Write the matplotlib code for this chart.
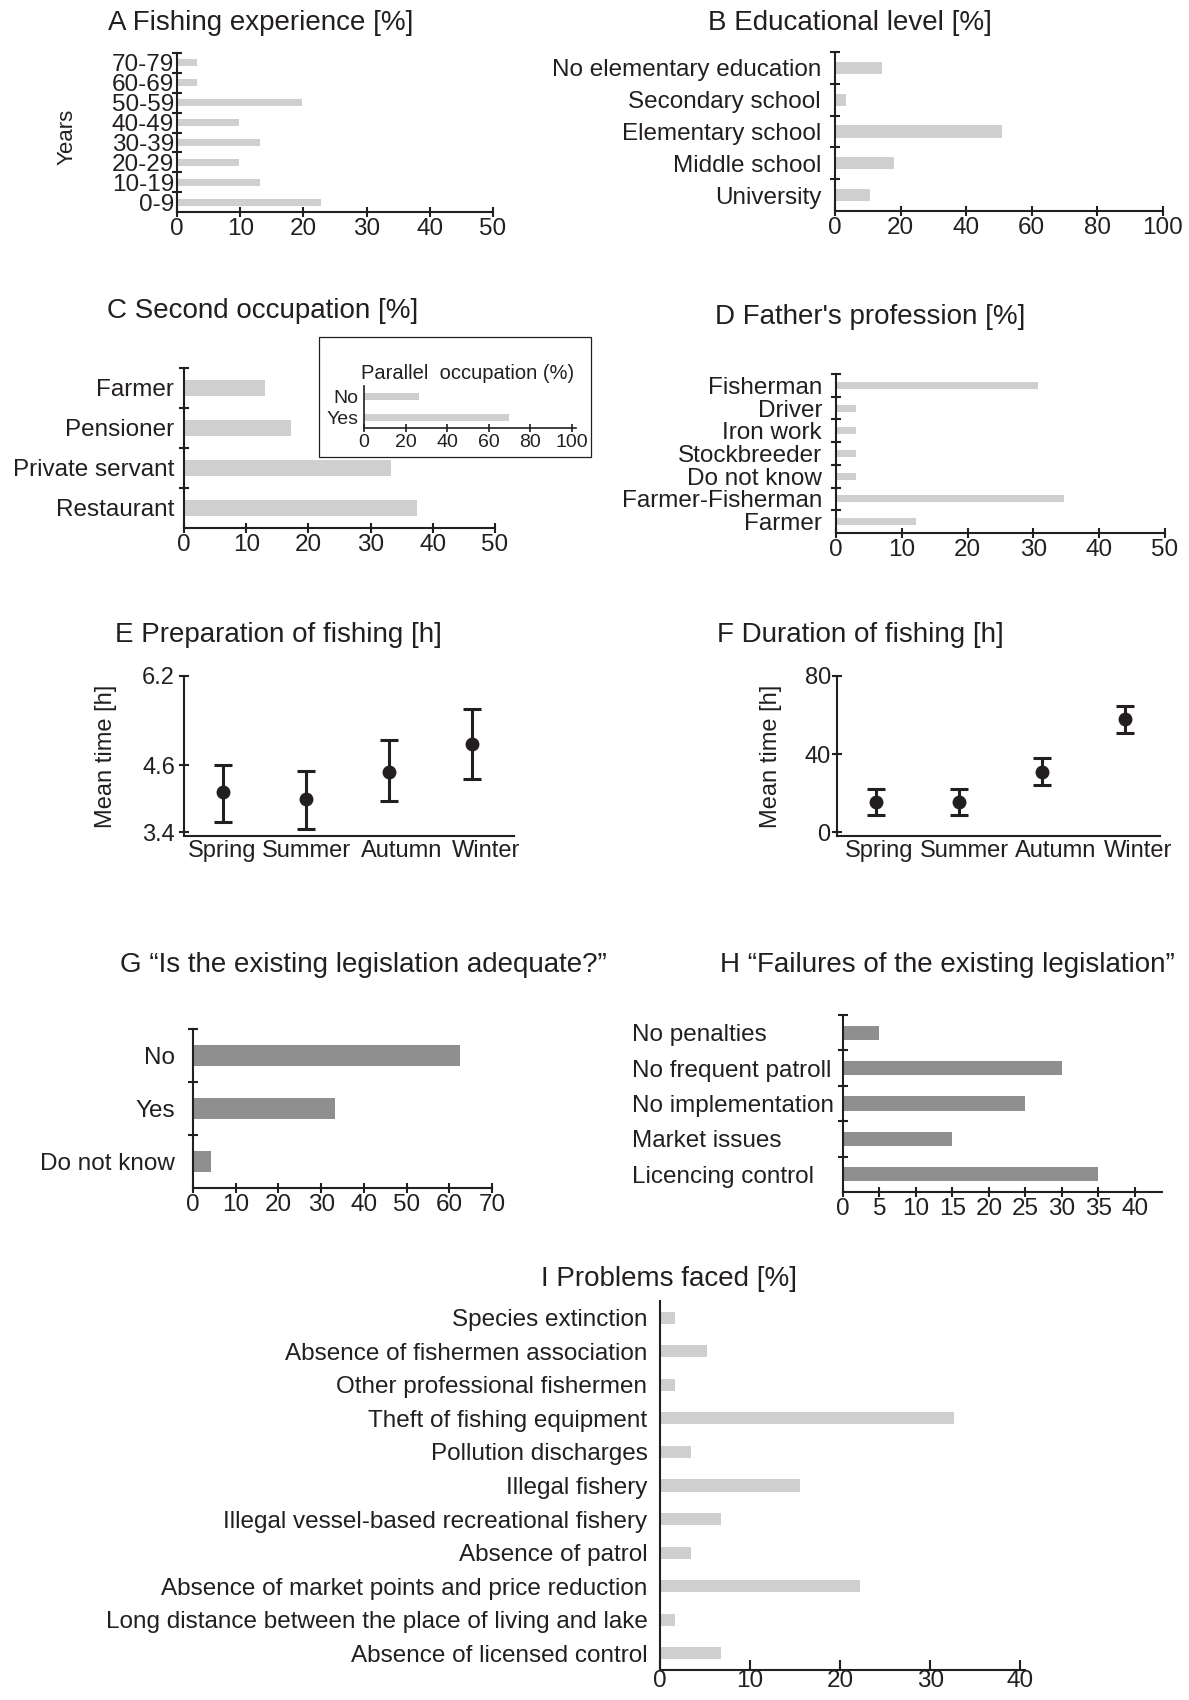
import numpy as np
import matplotlib
matplotlib.use('Agg')
import matplotlib.pyplot as plt
from matplotlib.patches import Rectangle
from matplotlib.transforms import ScaledTranslation

plt.rcParams['font.family'] = ['Liberation Sans', 'DejaVu Sans']

ink = '#231f20'
light = '#cfcfcf'
dark = '#8f8f8f'

# A Fishing experience (top to bottom)
years = ['70-79', '60-69', '50-59', '40-49', '30-39', '20-29', '10-19', '0-9']
years_pct = [3.2, 3.2, 19.7, 9.8, 13.2, 9.8, 13.2, 22.8]

# B Educational level
edu = ['No elementary education', 'Secondary school', 'Elementary school',
       'Middle school', 'University']
edu_pct = [14.4, 3.4, 50.9, 18.0, 10.6]

# C Second occupation + inset
occ = ['Farmer', 'Pensioner', 'Private servant', 'Restaurant']
occ_pct = [13.1, 17.2, 33.3, 37.4]
parallel = ['No', 'Yes']
parallel_pct = [26.7, 70.0]

# D Father's profession
father = ['Fisherman', 'Driver', 'Iron work', 'Stockbreeder', 'Do not know',
          'Farmer-Fisherman', 'Farmer']
father_pct = [30.7, 3.1, 3.1, 3.1, 3.1, 34.6, 12.1]

# E / F seasons
seasons = ['Spring', 'Summer', 'Autumn', 'Winter']
prep_mean = [4.12, 4.00, 4.48, 4.98]
prep_lo = [3.58, 3.45, 3.95, 4.35]
prep_hi = [4.60, 4.50, 5.06, 5.60]
dur_mean = [15.2, 15.2, 30.8, 57.7]
dur_lo = [8.6, 8.6, 24.3, 50.9]
dur_hi = [22.3, 22.3, 38.2, 64.6]

# G legislation adequate
adequate = ['No', 'Yes', 'Do not know']
adequate_pct = [62.5, 33.3, 4.1]

# H failures
failures = ['No penalties', 'No frequent patroll', 'No implementation',
            'Market issues', 'Licencing control']
failures_pct = [5, 30, 25, 15, 35]

# I problems faced
problems = ['Species extinction', 'Absence of fishermen association',
            'Other professional fishermen', 'Theft of fishing equipment',
            'Pollution discharges', 'Illegal fishery',
            'Illegal vessel-based recreational fishery', 'Absence of patrol',
            'Absence of market points and price reduction',
            'Long distance between the place of living and lake',
            'Absence of licensed control']
problems_pct = [1.7, 5.2, 1.7, 32.6, 3.4, 15.5, 6.8, 3.4, 22.2, 1.7, 6.8]

W, H = 1189, 1700
fig = plt.figure(figsize=(W / 100, H / 100), dpi=100)
FS = 17.5
TFS = 20


def add_ax(x0, y0, x1, y1):
    return fig.add_axes([x0 / W, 1 - y1 / H, (x1 - x0) / W, (y1 - y0) / H])


def style(ax, lw=1.5):
    for s in ['top', 'right']:
        ax.spines[s].set_visible(False)
    for s in ['left', 'bottom']:
        ax.spines[s].set_linewidth(lw)
        ax.spines[s].set_color(ink)


def hbar(box, labels, values, xlim, xticks, color, h, seps=True, lpad=8,
         fs=FS, lw=1.5, tl=7, xdir='inout'):
    ax = add_ax(*box)
    n = len(labels)
    y = np.arange(n)
    ax.barh(y, values, height=h, color=color)
    ax.set_ylim(n - 0.5, -0.5)
    ax.set_xlim(*xlim)
    ax.set_xticks(xticks)
    ax.set_yticks(y)
    ax.set_yticklabels(labels)
    ax.tick_params(axis='y', length=0, pad=lpad, labelsize=fs, colors=ink)
    ax.tick_params(axis='x', direction=xdir, length=tl, width=lw, pad=1,
                   labelsize=fs, colors=ink)
    if seps:
        ax.set_yticks(y - 0.5, minor=True)
        ax.tick_params(axis='y', which='minor', direction='inout', length=tl,
                       width=lw, colors=ink)
    style(ax, lw)
    return ax


def title(x, y, s, fs=TFS):
    fig.text(x / W, 1 - y / H, s, ha='center', va='baseline', fontsize=fs,
             color=ink)


# A
axA = hbar((177, 53, 493, 212), years, years_pct, (0, 50), range(0, 51, 10),
           light, 0.35, lpad=2)
axA.set_ylabel('Years', fontsize=16, color=ink)
axA.yaxis.set_label_coords(-0.316, 0.47)
title(261, 30, 'A Fishing experience [%]')

# B
hbar((835, 52, 1163, 211), edu, edu_pct, (0, 100), range(0, 101, 20),
     light, 0.38, lpad=10)
title(850, 30, 'B Educational level [%]')

# C
hbar((184, 368, 495, 528), occ, occ_pct, (0, 50), range(0, 51, 10),
     light, 0.4, lpad=7)
title(263, 318, 'C Second occupation [%]')
fig.add_artist(Rectangle((319 / W, 1 - 457 / H), (591 - 319) / W, (457 - 337) / H,
                         transform=fig.transFigure, fill=False, edgecolor=ink,
                         linewidth=0.9))
axIn = hbar((364, 386, 576, 428), parallel, parallel_pct, (0, 102),
            range(0, 101, 20), light, 0.33, seps=False, lpad=4, fs=14,
            lw=1.2, tl=6)
title(468, 379, 'Parallel  occupation (%)', fs=14.5)

# D
hbar((836, 374, 1165, 533), father, father_pct, (0, 50), range(0, 51, 10),
     light, 0.31, lpad=10)
title(870, 324, "D Father's profession [%]")


# E / F
def errpanel(box, means, lo, hi, ylim, yticks, ylab_x, ypad, xlim, shifts):
    ax = add_ax(*box)
    x = np.arange(1, len(seasons) + 1)
    m = np.array(means)
    err = [m - np.array(lo), np.array(hi) - m]
    ax.errorbar(x, m, yerr=err, fmt='o', color=ink, ms=9, capsize=6.5,
                elinewidth=2.2, capthick=2.2)
    ax.set_xlim(*xlim)
    ax.set_ylim(*ylim)
    ax.set_yticks(yticks)
    ax.set_yticklabels([str(t) for t in yticks])
    ax.set_xticks(x)
    ax.set_xticklabels(seasons)
    ax.tick_params(axis='x', length=0, pad=3, labelsize=17, colors=ink)
    ax.tick_params(axis='y', direction='inout', length=7, width=1.5,
                   pad=ypad, labelsize=17, colors=ink)
    # labels sit a little right of their points in the original
    for lab, dx in zip(ax.get_xticklabels(), shifts):
        lab.set_transform(lab.get_transform() +
                          ScaledTranslation(dx / 100, 0, fig.dpi_scale_trans))
    ax.set_ylabel('Mean time [h]', fontsize=17, color=ink)
    ax.yaxis.set_label_coords(ylab_x, 0.5)
    style(ax)
    return ax


errpanel((184, 676, 514, 836), prep_mean, prep_lo, prep_hi, (3.33, 6.2),
         [3.4, 4.6, 6.2], -0.203, 3, (0.53, 4.5), [-1, 0, 12, 14])
title(278, 642, 'E Preparation of fishing [h]')
errpanel((837, 676, 1160, 836), dur_mean, dur_lo, dur_hi, (-2.05, 80),
         [0, 40, 80], -0.17, 1, (0.53, 4.42), [3, 5, 14, 13])
title(860, 642, 'F Duration of fishing [h]')

# G
hbar((193, 1029, 492, 1188), adequate, adequate_pct, (0, 70),
     range(0, 71, 10), dark, 0.4, lpad=13)
title(363, 972, 'G \u201cIs the existing legislation adequate?\u201d')

# H
axH = hbar((843, 1015, 1162, 1192), failures, failures_pct, (0, 43.7),
           range(0, 41, 5), dark, 0.4, lpad=152)
for t in axH.get_yticklabels():
    t.set_ha('left')
title(947, 972, 'H \u201cFailures of the existing legislation\u201d')

# I
axI = hbar((660, 1301, 1025, 1670), problems, problems_pct, (0, 40.5),
           range(0, 41, 10), light, 0.36, seps=False, lpad=9, xdir='in')
axI.tick_params(axis='x', pad=0)
title(669, 1286, 'I Problems faced [%]')

fig.savefig('out.png', dpi=100)
